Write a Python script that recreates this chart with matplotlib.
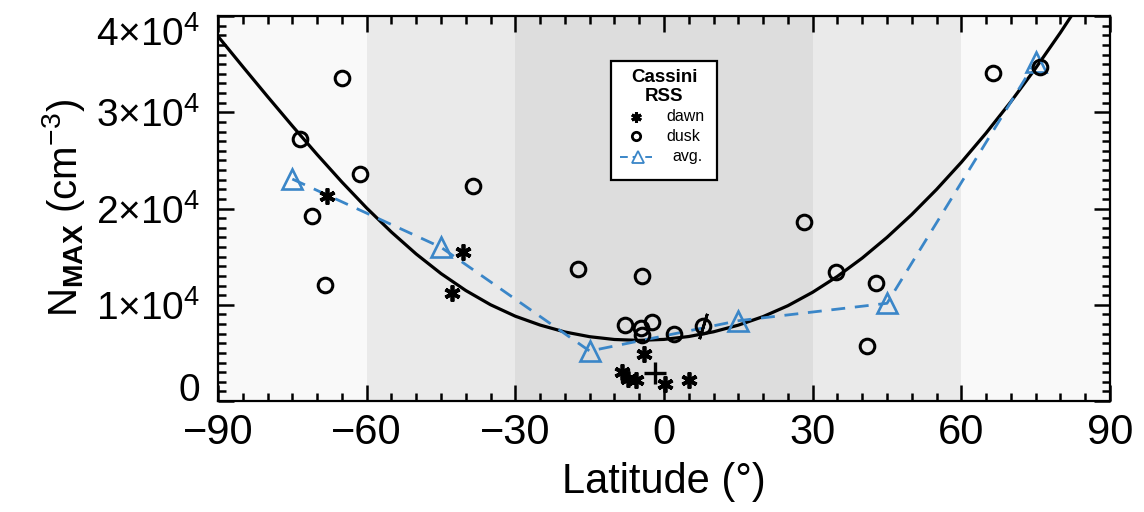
import matplotlib
matplotlib.use('Agg')
import matplotlib.pyplot as plt
from matplotlib.patches import Rectangle

# ---------------- data ----------------
dusk_lat = [-65.0, -73.4, -61.3, -71.1, -68.5, -38.5, -17.3, -4.5,
            -7.9, -4.6, -2.5, -4.5, 2.1, 7.9,
            28.2, 34.7, 42.7, 40.9, 66.4, 75.9]
dusk_n = [33530, 27190, 23550, 19250, 12050, 22370, 13710, 12990,
          7900, 7620, 8240, 6860, 6930, 7790,
          18570, 13370, 12230, 5710, 34050, 34730]

dawn_lat = [-68.1, -40.6, -42.8, -4.0, -8.5, -7.3, -5.7, 0.2, 5.1]
dawn_n = [21330, 15450, 11190, 4880, 3050, 2300, 2200, 1770, 2180]

plus_lat = [-1.8]
plus_n = [2880]

slash_lat = [7.9]
slash_n = [7790]

avg_lat = [-75, -45, -15, 15, 45, 75]
avg_n = [23060, 15970, 5190, 8340, 10150, 35250]

# fitted curve, read every 5 degrees
fit_lat = [-90, -85, -80, -75, -70, -65, -60, -55, -50, -45, -40, -35, -30,
           -25, -20, -15, -10, -5, 0, 5, 10, 15, 20, 25, 30, 35, 40, 45,
           50, 55, 60, 65, 70, 75, 80, 85, 90]
fit_n = [37890, 34740, 31630, 28580, 25610, 22750, 20050, 17550, 15270,
         13240, 11480, 10000, 8810, 7890, 7170, 6680, 6390, 6300, 6400,
         6700, 7190, 7880, 8770, 9900, 11300, 12950, 14850, 17000, 19380,
         21980, 24800, 27840, 31100, 34580, 38280, 42200, 46340]

band_edges = [-90, -60, -30, 30, 60, 90]
band_colors = ['#f9f9f9', '#eaeaea', '#dddddd', '#eaeaea', '#f9f9f9']

x_ticks = [-90, -60, -30, 0, 30, 60, 90]
x_ticklabels = ['\u221290', '\u221260', '\u221230', '0', '30', '60', '90']
y_ticks = [0, 10000, 20000, 30000, 40000]
y_ticklabels = ['0', r'$1{\times}10^{4}$', r'$2{\times}10^{4}$',
                r'$3{\times}10^{4}$', r'$4{\times}10^{4}$']

BLUE = '#3a86c8'

# ---------------- style ----------------
plt.rcParams['font.family'] = ['Liberation Sans', 'DejaVu Sans']
plt.rcParams['mathtext.fontset'] = 'custom'
plt.rcParams['mathtext.rm'] = 'Liberation Sans'
plt.rcParams['mathtext.it'] = 'Liberation Sans'
plt.rcParams['mathtext.bf'] = 'Liberation Sans:bold'

fig = plt.figure(figsize=(11.44, 5.12), dpi=100)
ax = fig.add_axes([218 / 1144, 1 - 401 / 512, (1110 - 218) / 1144, (401 - 16) / 512])

for i in range(len(band_colors)):
    ax.axvspan(band_edges[i], band_edges[i + 1], color=band_colors[i], lw=0, zorder=0)

ax.plot(fit_lat, fit_n, color='black', lw=2.3, zorder=3,
        solid_joinstyle='round')
ax.plot(avg_lat, avg_n, color=BLUE, lw=2.0, ls=(0, (5, 3.5)), marker='^',
        ms=14, mfc='none', mec=BLUE, mew=1.9, zorder=4)
ax.plot(dusk_lat, dusk_n, ls='none', marker='o', ms=10.5, mfc='none',
        mec='black', mew=2.2, zorder=5)
ax.plot(dawn_lat, dawn_n, ls='none', marker=(6, 2, 0), ms=11.5, mec='black',
        mew=2.7, zorder=5)
ax.plot(plus_lat, plus_n, ls='none', marker='+', ms=16, mec='black',
        mew=2.4, zorder=5)
ax.plot(slash_lat, slash_n, ls='none', marker=(2, 2, -17), ms=19, mec='black',
        mew=2.0, zorder=5)

ax.set_xlim(-90, 90)
ax.set_ylim(0, 40000)
ax.set_xticks(x_ticks, x_ticklabels)
ax.set_yticks(y_ticks, y_ticklabels)
ax.set_xticks(range(-90, 91, 5), minor=True)
ax.set_yticks(range(0, 40001, 1000), minor=True)
ax.tick_params(which='both', direction='in', top=True, right=True, width=1.8,
               color='black')
ax.tick_params(which='major', length=11.5)
ax.tick_params(which='minor', length=5.5)
ax.tick_params(axis='x', which='major', labelsize=30, pad=9)
ax.tick_params(axis='y', which='major', labelsize=28, pad=13)
for s in ax.spines.values():
    s.set_linewidth(1.6)

ylabs = ax.get_yticklabels()
ylabs[0].set_verticalalignment('baseline')
ylabs[-1].set_verticalalignment('top')

ax.set_xlabel('Latitude (\u00b0)', fontsize=30, labelpad=6)
ax.set_ylabel(r'N$_{\mathbf{MAX}}$ (cm$^{-3}$)', fontsize=29, labelpad=6)

# ---------------- legend box ----------------
lx0, lx1, ly0, ly1 = 0.4406, 0.5594, 0.574, 0.883
ax.add_patch(Rectangle((lx0, ly0), lx1 - lx0, ly1 - ly0, transform=ax.transAxes,
                       facecolor='white', edgecolor='black', lw=1.6, zorder=10))
ax.text(0.5, 0.839, 'Cassini', transform=ax.transAxes, ha='center', va='center',
        fontsize=13.5, fontweight='bold', zorder=11)
ax.text(0.5, 0.790, 'RSS', transform=ax.transAxes, ha='center', va='center',
        fontsize=13.5, fontweight='bold', zorder=11)
ax.plot([0.4686], [0.738], transform=ax.transAxes, marker=(6, 2, 0), ms=7.5,
        mec='black', mew=2.2, ls='none', zorder=11)
ax.text(0.503, 0.738, 'dawn', transform=ax.transAxes, ha='left', va='center',
        fontsize=11.5, zorder=11)
ax.plot([0.4686], [0.688], transform=ax.transAxes, marker='o', ms=6,
        mfc='none', mec='black', mew=2.0, ls='none', zorder=11)
ax.text(0.503, 0.688, 'dusk', transform=ax.transAxes, ha='left', va='center',
        fontsize=11.5, zorder=11)
ax.plot([0.4507, 0.4865], [0.634, 0.634], transform=ax.transAxes, color=BLUE,
        lw=1.4, ls=(0, (4, 2.5)), zorder=11)
ax.plot([0.4709], [0.634], transform=ax.transAxes, marker='^', ms=9,
        mfc='white', mec=BLUE, mew=1.3, ls='none', zorder=12)
ax.text(0.509, 0.634, 'avg.', transform=ax.transAxes, ha='left', va='center',
        fontsize=11.5, zorder=11)

fig.savefig('out.png', dpi=100)
